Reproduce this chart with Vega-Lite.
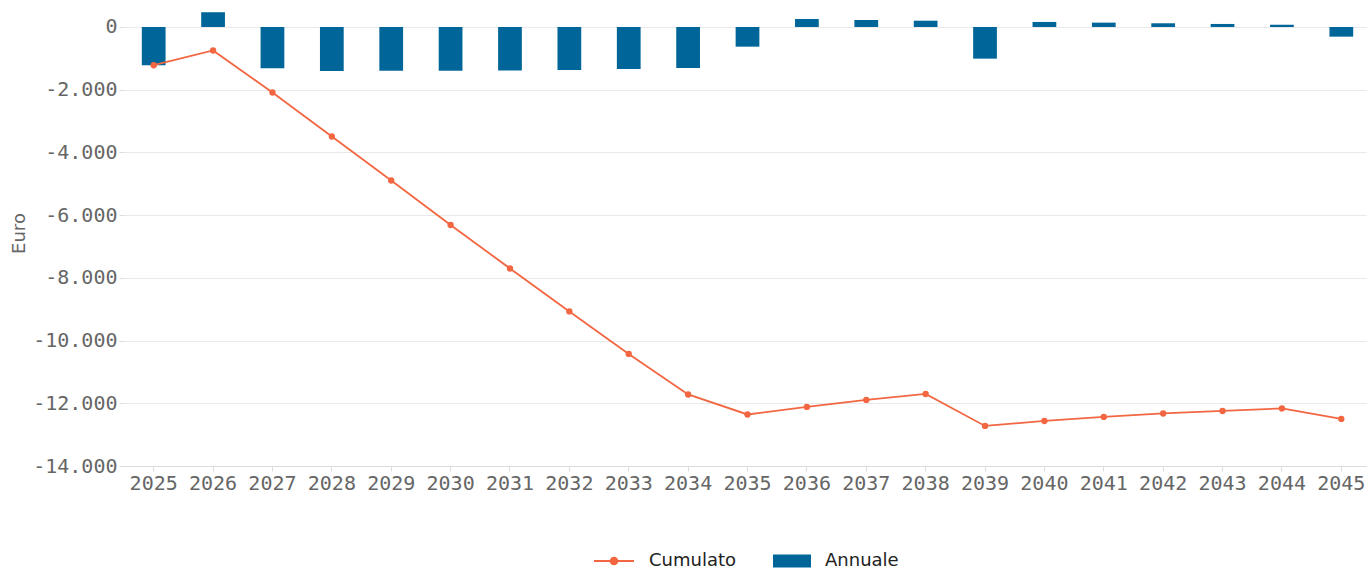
{
  "$schema": "https://vega.github.io/schema/vega-lite/v6.json",
  "autosize": "none",
  "width": 1247,
  "height": 466,
  "padding": {"left": 124, "top": 0, "right": 0, "bottom": 104},
  "config": {
    "view": {"stroke": null},
    "locale": {"number": {"decimal": ",", "thousands": ".", "grouping": [3], "currency": ["€", ""], "minus": "-"}},
    "axis": {"labelFont": "DejaVu Sans Mono", "labelFontSize": 20, "labelColor": "#666666", "titleFont": "DejaVu Sans", "titleFontSize": 18, "titleFontWeight": "normal", "titleColor": "#666666", "gridColor": "#e9e9e9", "tickColor": "#dddddd", "domainColor": "#dddddd"},
    "legend": {"labelFont": "DejaVu Sans", "labelFontSize": 18, "labelColor": "#222222"}
  },
  "data": {"values": [
    {"year": "2025", "annual": -1220, "cum": -1220},
    {"year": "2026", "annual": 470, "cum": -750},
    {"year": "2027", "annual": -1317, "cum": -2089},
    {"year": "2028", "annual": -1403, "cum": -3492},
    {"year": "2029", "annual": -1400, "cum": -4895},
    {"year": "2030", "annual": -1400, "cum": -6314},
    {"year": "2031", "annual": -1390, "cum": -7701},
    {"year": "2032", "annual": -1370, "cum": -9072},
    {"year": "2033", "annual": -1340, "cum": -10427},
    {"year": "2034", "annual": -1310, "cum": -11719},
    {"year": "2035", "annual": -628, "cum": -12357},
    {"year": "2036", "annual": 255, "cum": -12117},
    {"year": "2037", "annual": 223, "cum": -11894},
    {"year": "2038", "annual": 200, "cum": -11703},
    {"year": "2039", "annual": -1010, "cum": -12723},
    {"year": "2040", "annual": 160, "cum": -12564},
    {"year": "2041", "annual": 138, "cum": -12436},
    {"year": "2042", "annual": 118, "cum": -12325},
    {"year": "2043", "annual": 96, "cum": -12245},
    {"year": "2044", "annual": 73, "cum": -12165},
    {"year": "2045", "annual": -309, "cum": -12500}
  ]},
  "encoding": {
    "x": {"field": "year", "type": "ordinal", "scale": {"paddingInner": 0.6, "paddingOuter": 0.3},
      "axis": {"title": null, "labelAngle": 0, "grid": false, "tickSize": 5, "labelPadding": 2, "domain": true}}
  },
  "layer": [
    {
      "transform": [{"calculate": "'Annuale'", "as": "s"}],
      "mark": {"type": "bar"},
      "encoding": {
        "y": {"field": "annual", "type": "quantitative",
          "scale": {"domain": [-14000, 860], "nice": false},
          "axis": {"title": "Euro", "values": [-14000, -12000, -10000, -8000, -6000, -4000, -2000, 0], "format": ",d", "domain": false, "tickSize": 5, "labelPadding": 2, "titlePadding": 4}},
        "fill": {"field": "s", "type": "nominal", "scale": {"domain": ["Annuale"], "range": ["#006699"]},
          "legend": {"title": null, "orient": "none", "legendX": 649, "legendY": 542, "symbolType": "M-1,-0.34H1V0.34H-1Z", "symbolSize": 1444, "symbolStrokeWidth": 0, "labelOffset": 14, "padding": 0, "symbolOffset": 0}}
      }
    },
    {
      "transform": [{"calculate": "'Cumulato'", "as": "s"}],
      "mark": {"type": "line", "strokeWidth": 1.8, "point": {"filled": true, "size": 40}},
      "encoding": {
        "y": {"field": "cum", "type": "quantitative"},
        "color": {"field": "s", "type": "nominal", "scale": {"domain": ["Cumulato"], "range": ["#f26641"]},
          "legend": {"title": null, "orient": "none", "legendX": 469, "legendY": 540, "symbolType": "M-1,0H1M-0.17,0A0.17,0.17,0,1,1,0.17,0A0.17,0.17,0,1,1,-0.17,0Z", "symbolSize": 1600, "symbolStrokeWidth": 1.8, "symbolFillColor": "#f26641", "symbolStrokeColor": "#f26641", "labelOffset": 14, "padding": 0, "symbolOffset": 0}}
      }
    }
  ]
}
